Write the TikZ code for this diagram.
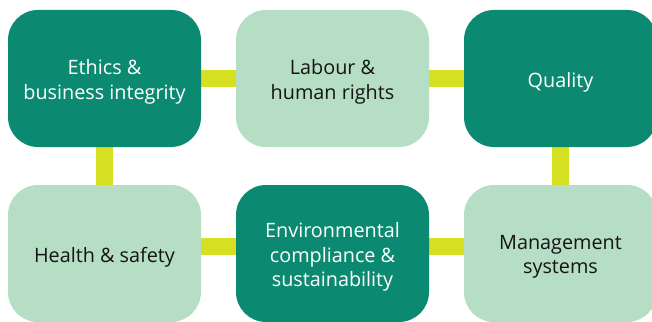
\documentclass[tikz,border=0pt]{standalone}
\usepackage{fontspec}
\setmainfont{Open Sans}
\usetikzlibrary{backgrounds}
\definecolor{darkteal}{HTML}{0C8A71}
\definecolor{lightgreen}{HTML}{B5DEC4}
\definecolor{barcol}{HTML}{D5E022}
\definecolor{txtdark}{HTML}{141414}
\tikzset{
  box/.style={rounded corners=30pt, minimum width=193pt, minimum height=137pt, inner sep=0pt},
  darkbox/.style={box, fill=darkteal},
  lightbox/.style={box, fill=lightgreen},
  lbl/.style={inner sep=0pt, align=center, font=\fontsize{19.8}{24.5}\selectfont, yshift=-3.5pt},
  darklbl/.style={lbl, text=white},
  lightlbl/.style={lbl, text=txtdark},
  bar/.style={draw=barcol, line width=17.5pt}
}
\begin{document}
\begin{tikzpicture}[x=1pt,y=-1pt]
\useasboundingbox (0,0) rectangle (652,321);
\node[darkbox]  (eth) at (104.5,78.5) {};
\node[lightbox] (lab) at (332.5,78.5) {};
\node[darkbox]  (qua) at (560.5,78.5) {};
\node[lightbox] (hea) at (104.5,253.5) {};
\node[darkbox]  (env) at (332.5,253.5) {};
\node[lightbox] (man) at (560.5,253.5) {};
\node[darklbl]  (ethT) at (eth.center) {Ethics \&\\business integrity};
\node[lightlbl] (labT) at (lab.center) {Labour \&\\human rights};
\node[darklbl]  (quaT) at (qua.center) {Quality};
\node[lightlbl] (heaT) at (hea.center) {Health \& safety};
\node[darklbl]  (envT) at (env.center) {Environmental\\compliance \&\\sustainability};
\node[lightlbl] (manT) at (man.center) {Management\\systems};
\begin{scope}[on background layer]
\draw[bar] (eth.center) -- (lab.center);
\draw[bar] (lab.center) -- (qua.center);
\draw[bar] (eth.center) -- (hea.center);
\draw[bar] (qua.center) -- (man.center);
\draw[bar] ([yshift=7pt]hea.center) -- ([yshift=7pt]env.center);
\draw[bar] ([yshift=7pt]env.center) -- ([yshift=7pt]man.center);
\end{scope}
\end{tikzpicture}
\end{document}
